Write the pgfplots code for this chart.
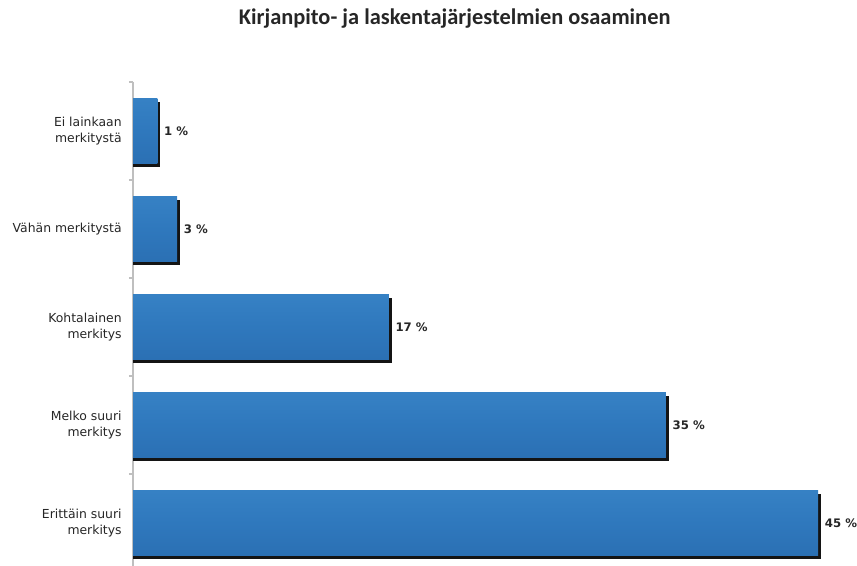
\documentclass[border=0pt]{standalone}
\usepackage{pgfplots}
\pgfplotsset{compat=1.18}
\usepackage{fontspec}
\setmainfont{Carlito}
\newfontfamily\lblfont{DejaVu Sans}
\definecolor{barlight}{HTML}{84B8E2}
\definecolor{barhi}{HTML}{3A86C8}
\definecolor{barmid}{HTML}{2F78BD}
\definecolor{barlow}{HTML}{296CAF}
\definecolor{bardark}{HTML}{1F5690}
\definecolor{txt}{HTML}{262626}
\pgfdeclareverticalshading{barshade}{100bp}{color(0bp)=(bardark); color(4bp)=(bardark); color(12bp)=(barlow); color(50bp)=(barmid); color(88bp)=(barhi); color(93bp)=(barlight); color(100bp)=(barlight)}
\pgfplotsset{barsty/.style={draw=none, shading=barshade},
  shadowsty/.style={draw=none, fill=black!92, nodes near coords={}}}
\begin{document}
\begin{tikzpicture}[x=1pt,y=1pt]
\path[use as bounding box] (0,0) rectangle (642.75,424.5);
\node[font=\bfseries\fontsize{16.8}{18}\selectfont, text=txt] at (341,410.5) {Kirjanpito- ja laskentajärjestelmien osaaminen};
\begin{axis}[
  at={(99.75pt,363pt)}, anchor=north west,
  x=11.42pt, y=-73.5pt,
  xmin=0, xmax=47.5, ymin=-0.5, ymax=4.44,
  axis x line=none,
  axis y line*=left,
  y axis line style={draw=gray!50, line width=0.8pt},
  ytick={0,1,2,3,4},
  yticklabels={{Ei lainkaan\\merkitystä},{Vähän merkitystä},{Kohtalainen\\merkitys},{Melko suuri\\merkitys},{Erittäin suuri\\merkitys}},
  yticklabel style={align=right, font=\lblfont\fontsize{9.3}{11.5}\selectfont, text=txt, xshift=-5pt},
  major tick length=0pt,
  minor ytick={-0.5,0.5,1.5,2.5,3.5},
  minor tick length=3pt,
  tick align=outside,
  minor tick style={draw=gray!50, line width=0.8pt},
  clip=false,
  xbar, bar width=48.75pt, bar shift=0pt,
  point meta=explicit symbolic,
  nodes near coords={\pgfplotspointmeta~\%},
  every node near coord/.append style={font=\lblfont\bfseries\fontsize{8.8}{10}\selectfont, text=txt, anchor=west, xshift=1.5pt, yshift=0pt},
]
% shadows (offset right/down)
\addplot[shadowsty] coordinates {(1.8,0.04) [1]};
\addplot[shadowsty] coordinates {(3.1,1.04) [3]};
\addplot[shadowsty] coordinates {(17.0,2.04) [17]};
\addplot[shadowsty] coordinates {(35.2,3.04) [35]};
\addplot[shadowsty] coordinates {(45.2,4.04) [45]};
% bars
\addplot[barsty] coordinates {(1.6,0) [1]};
\addplot[barsty] coordinates {(2.9,1) [3]};
\addplot[barsty] coordinates {(16.8,2) [17]};
\addplot[barsty] coordinates {(35,3) [35]};
\addplot[barsty] coordinates {(45,4) [45]};
\end{axis}
\end{tikzpicture}
\end{document}
